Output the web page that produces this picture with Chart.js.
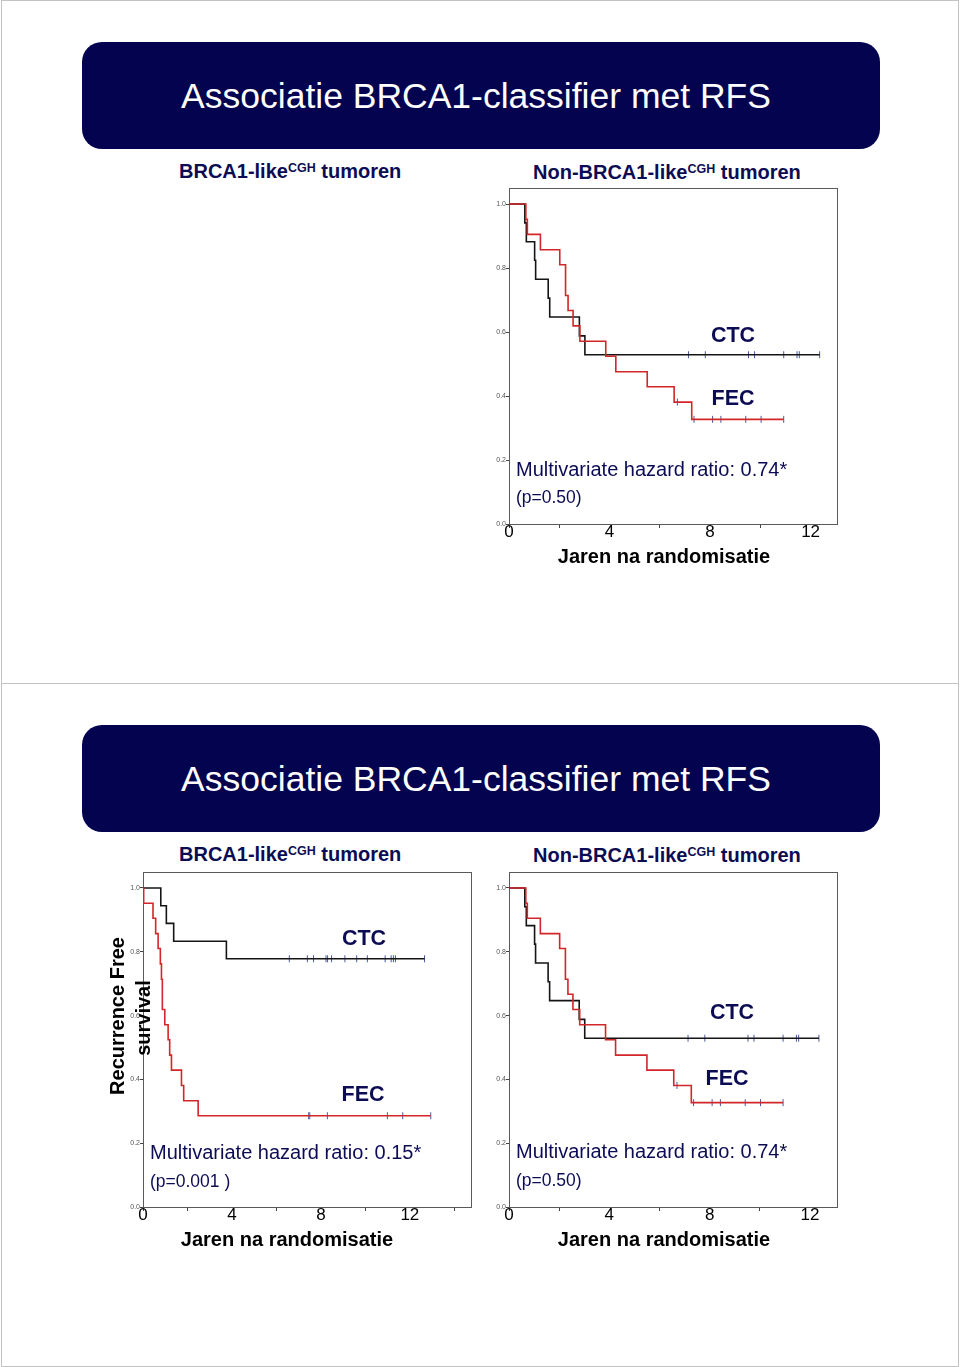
<!DOCTYPE html>
<html lang="nl">
<head>
<meta charset="utf-8">
<title>Associatie BRCA1-classifier met RFS</title>
<script src="https://cdn.jsdelivr.net/npm/chart.js@4.4.1/dist/chart.umd.min.js"></script>
<style>
  body { margin: 0; background: #fff; font-family: "Liberation Sans", Arial, Helvetica, sans-serif; }
  #page { position: relative; width: 960px; height: 1367px; overflow: hidden; }
  .slide { position: absolute; left: 1px; width: 958px; height: 684px; box-sizing: border-box; border: 1px solid #c3c3c3; }
  .banner { position: absolute; left: 82px; width: 798px; height: 107px; background: #030350; border-radius: 20px; }
  .txt { position: absolute; white-space: nowrap; line-height: 1.2; }
  .mid { transform: translate(-50%, -50%); }
  .left { transform: translateY(-50%); }
  .title { color: #fff; font-size: 35.5px; }
  .sub { color: #0c0c55; font-weight: bold; font-size: 20px; }
  .sub sup { font-size: 12.5px; line-height: 0; vertical-align: 6px; }
  .arm { color: #0c0c55; font-weight: bold; font-size: 21.5px; }
  .hr { color: #0c0c55; font-size: 20px; }
  .pv { color: #0c0c55; font-size: 17.5px; }
  .xt { color: #000; font-weight: bold; font-size: 20px; }
  .yt { color: #000; font-weight: bold; font-size: 20px; transform: translate(-50%, -50%) rotate(-90deg); }
  canvas { position: absolute; }
</style>
</head>
<body>
<div id="page">
  <div class="slide" style="top:0"></div>
  <div class="slide" style="top:683px"></div>

  <!-- slide 1 -->
  <div class="banner" style="top:42px"></div>
  <div class="txt title mid" style="left:476px; top:96px">Associatie BRCA1-classifier met RFS</div>
  <div class="txt sub left" style="left:179px; top:171px">BRCA1-like<sup>CGH</sup> tumoren</div>
  <div class="txt sub left" style="left:533px; top:172px">Non-BRCA1-like<sup>CGH</sup> tumoren</div>

  <canvas id="kmTop" width="353" height="368" style="left:487px; top:186px"></canvas>
  <div class="txt arm mid" style="left:733px; top:336px">CTC</div>
  <div class="txt arm mid" style="left:733px; top:399px">FEC</div>
  <div class="txt hr left" style="left:516px; top:469px">Multivariate hazard ratio: 0.74*</div>
  <div class="txt pv left" style="left:516px; top:497px">(p=0.50)</div>
  <div class="txt xt mid" style="left:664px; top:556px">Jaren na randomisatie</div>

  <!-- slide 2 -->
  <div class="banner" style="top:725px"></div>
  <div class="txt title mid" style="left:476px; top:779px">Associatie BRCA1-classifier met RFS</div>
  <div class="txt sub left" style="left:179px; top:854px">BRCA1-like<sup>CGH</sup> tumoren</div>
  <div class="txt sub left" style="left:533px; top:855px">Non-BRCA1-like<sup>CGH</sup> tumoren</div>

  <canvas id="kmBrca" width="353" height="367" style="left:121px; top:870px"></canvas>
  <div class="txt arm mid" style="left:364px; top:939px">CTC</div>
  <div class="txt arm mid" style="left:363px; top:1095px">FEC</div>
  <div class="txt hr left" style="left:150px; top:1152px">Multivariate hazard ratio: 0.15*</div>
  <div class="txt pv left" style="left:150px; top:1181px">(p=0.001 )</div>
  <div class="txt xt mid" style="left:287px; top:1239px">Jaren na randomisatie</div>
  <div class="txt yt" style="left:117px; top:1016px">Recurrence Free</div>
  <div class="txt yt" style="left:143px; top:1018px">survival</div>

  <canvas id="kmNon" width="353" height="367" style="left:487px; top:870px"></canvas>
  <div class="txt arm mid" style="left:732px; top:1013px">CTC</div>
  <div class="txt arm mid" style="left:727px; top:1079px">FEC</div>
  <div class="txt hr left" style="left:516px; top:1151px">Multivariate hazard ratio: 0.74*</div>
  <div class="txt pv left" style="left:516px; top:1180px">(p=0.50)</div>
  <div class="txt xt mid" style="left:664px; top:1239px">Jaren na randomisatie</div>
</div>

<script>
// Non-BRCA1-like tumoren (same curves on both slides)
const nonCtcTimes = [0, 0.63, 0.69, 1.02, 1.06, 1.56, 1.62, 2.80, 3.02, 12.36];
const nonCtcSurv = [1, 0.941, 0.882, 0.824, 0.765, 0.706, 0.647, 0.588, 0.529, 0.529];
const nonCtcCensored = [7.14, 7.81, 9.53, 9.77, 10.93, 11.46, 11.55, 12.36];
const nonFecTimes = [0, 0.67, 0.73, 1.25, 2.02, 2.25, 2.35, 2.55, 2.82, 3.85, 4.25, 5.50, 6.57, 7.27, 10.93];
const nonFecSurv = [1, 0.952, 0.905, 0.857, 0.810, 0.714, 0.667, 0.619, 0.571, 0.524, 0.476, 0.429, 0.381, 0.327, 0.327];
const nonFecCensored = [6.70, 7.36, 8.10, 8.43, 9.42, 10.03, 10.93];

// BRCA1-like tumoren
const brcaCtcTimes = [0, 0.80, 1.05, 1.38, 3.75, 12.66];
const brcaCtcSurv = [1, 0.944, 0.889, 0.833, 0.778, 0.778];
const brcaCtcCensored = [6.58, 7.39, 7.67, 8.23, 8.30, 8.48, 9.08, 9.61, 10.09, 10.89, 11.16, 11.26, 11.35, 12.66];
const brcaFecTimes = [0, 0.03, 0.45, 0.57, 0.68, 0.78, 0.83, 0.87, 0.98, 1.13, 1.20, 1.28, 1.73, 1.83, 2.48, 12.94];
const brcaFecSurv = [1, 0.952, 0.905, 0.857, 0.810, 0.762, 0.714, 0.619, 0.571, 0.524, 0.476, 0.429, 0.381, 0.333, 0.286, 0.286];
const brcaFecCensored = [7.45, 7.50, 8.29, 10.99, 11.68, 12.94];

// Axis ticks
const yTicks = [0, 0.2, 0.4, 0.6, 0.8, 1.0];
const xTicks = [0, 2, 4, 6, 8, 10, 12, 14];
const xLabelYears = [0, 4, 8, 12];

Chart.defaults.font.family = "Liberation Sans";

function steps(times, surv) {
  return times.map((t, i) => ({ x: t, y: surv[i] }));
}

// survival value of the step curve at time t
function survAt(times, surv, t) {
  let s = surv[0];
  for (let i = 0; i < times.length; i++) {
    if (times[i] <= t) s = surv[i];
  }
  return s;
}

function censorMarks(times, surv, cens) {
  return cens.map((t) => ({ x: t, y: survAt(times, surv, t) }));
}

// grey box round the plot area
const framePlugin = {
  id: "frame",
  beforeDatasetsDraw(chart) {
    const { ctx, chartArea: a } = chart;
    ctx.save();
    ctx.strokeStyle = "#5a5a5a";
    ctx.lineWidth = 1;
    ctx.strokeRect(a.left + 0.5, a.top + 0.5, a.right - a.left, a.bottom - a.top);
    ctx.restore();
  },
};

function kmChart(id, ctc, fec, xMax) {
  const tickStyle = {
    showLine: false,
    pointStyle: "line",
    pointRotation: 90,
    pointRadius: 3.5,
    pointBorderColor: "#4b5a9e",
    pointBorderWidth: 1,
  };
  return new Chart(document.getElementById(id), {
    type: "line",
    data: {
      datasets: [
        { data: steps(fec.times, fec.surv), borderColor: "#d2262a", borderWidth: 1.6, stepped: "before", pointRadius: 0 },
        { data: steps(ctc.times, ctc.surv), borderColor: "#151515", borderWidth: 1.6, stepped: "before", pointRadius: 0 },
        Object.assign({ data: censorMarks(fec.times, fec.surv, fec.cens) }, tickStyle),
        Object.assign({ data: censorMarks(ctc.times, ctc.surv, ctc.cens) }, tickStyle),
      ],
    },
    options: {
      responsive: false,
      animation: false,
      events: [],
      layout: { autoPadding: false, padding: { top: 2, right: 3, bottom: 0, left: 0 } },
      plugins: { legend: { display: false }, tooltip: { enabled: false } },
      scales: {
        x: {
          type: "linear",
          min: 0,
          max: xMax,
          afterBuildTicks: (s) => {
            s.ticks = xTicks.filter((v) => v <= xMax).map((v) => ({ value: v }));
          },
          afterFit: (s) => {
            s.height = 30;
            s.paddingLeft = 0;
            s.paddingRight = 0;
          },
          ticks: {
            autoSkip: false,
            maxRotation: 0,
            padding: -4,
            color: "#000",
            font: { size: 17, lineHeight: 1 },
            callback: (v) => (xLabelYears.includes(v) ? String(v) : ""),
          },
          grid: {
            drawOnChartArea: false,
            tickLength: 4,
            // the year labels hide their own tick marks
            tickColor: (c) =>
              c.tick && c.tick.value > 0 && xLabelYears.includes(c.tick.value) ? "rgba(0,0,0,0)" : "#444",
          },
          border: { display: false },
        },
        y: {
          min: 0,
          max: 1.05,
          afterBuildTicks: (s) => {
            s.ticks = yTicks.map((v) => ({ value: v }));
          },
          afterFit: (s) => {
            s.width = 22;
            s.paddingTop = 0;
            s.paddingBottom = 0;
          },
          ticks: { padding: 0, color: "#555", font: { size: 7 }, callback: (v) => v.toFixed(1) },
          grid: { drawOnChartArea: false, tickLength: 3, tickColor: "#444" },
          border: { display: false },
        },
      },
    },
    plugins: [framePlugin],
  });
}

document.addEventListener("DOMContentLoaded", function () {
  const nonCtc = { times: nonCtcTimes, surv: nonCtcSurv, cens: nonCtcCensored };
  const nonFec = { times: nonFecTimes, surv: nonFecSurv, cens: nonFecCensored };
  const brcaCtc = { times: brcaCtcTimes, surv: brcaCtcSurv, cens: brcaCtcCensored };
  const brcaFec = { times: brcaFecTimes, surv: brcaFecSurv, cens: brcaFecCensored };

  kmChart("kmTop", nonCtc, nonFec, 13.05);
  kmChart("kmBrca", brcaCtc, brcaFec, 14.75);
  kmChart("kmNon", nonCtc, nonFec, 13.08);
});
</script>
</body>
</html>
